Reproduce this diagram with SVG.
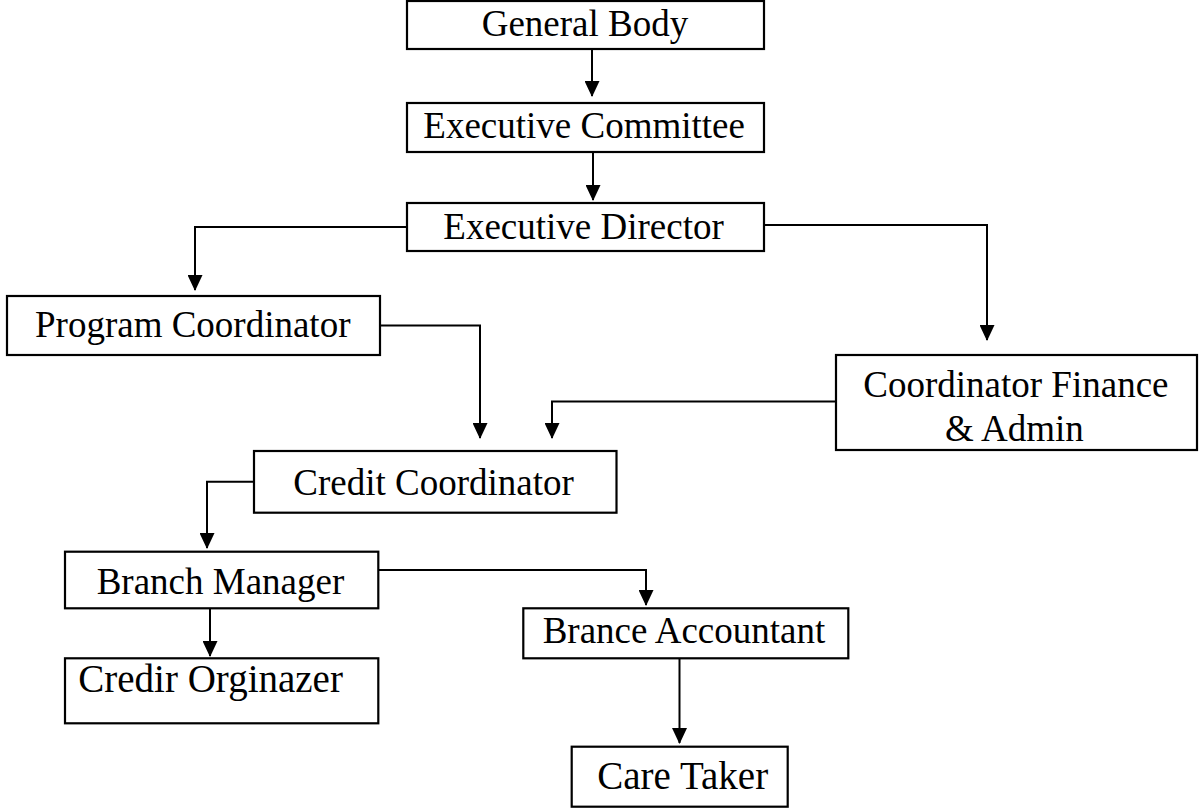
<svg xmlns="http://www.w3.org/2000/svg" width="1203" height="811" viewBox="0 0 1203 811">
<style>
.box{fill:#fff;stroke:#000;stroke-width:2.2}
.lbl{font-family:"Liberation Serif",Tinos,"Times New Roman",Times,serif;fill:#000}
.cn{fill:none;stroke:#000;stroke-width:2}
</style>
<defs>
<marker id="ah" viewBox="0 0 16 15" refX="15" refY="7.5" markerWidth="16" markerHeight="15" markerUnits="userSpaceOnUse" orient="auto">
<path d="M0,0 L16,7.5 L0,15 z" fill="#000"/>
</marker>
</defs>
<rect width="1203" height="811" fill="#fff"/>
<g id="connectors">
<path class="cn" d="M592,49 V96" marker-end="url(#ah)"/>
<path class="cn" d="M593,152 V200" marker-end="url(#ah)"/>
<path class="cn" d="M407,227 H195 V290" marker-end="url(#ah)"/>
<path class="cn" d="M764,225 H987 V340" marker-end="url(#ah)"/>
<path class="cn" d="M380,325.5 H480 V438" marker-end="url(#ah)"/>
<path class="cn" d="M836,401.5 H552 V438" marker-end="url(#ah)"/>
<path class="cn" d="M254,481.7 H207 V548" marker-end="url(#ah)"/>
<path class="cn" d="M210,608 V656" marker-end="url(#ah)"/>
<path class="cn" d="M378,570 H646 V605" marker-end="url(#ah)"/>
<path class="cn" d="M679.5,658 V743" marker-end="url(#ah)"/>
</g>
<g id="general-body">
<rect class="box" x="407" y="1" width="357" height="48"/>
<text class="lbl" x="481.7" y="36" font-size="37">General Body</text>
</g>
<g id="executive-committee">
<rect class="box" x="407" y="103" width="357" height="49"/>
<text class="lbl" x="423.3" y="137.5" font-size="37">Executive Committee</text>
</g>
<g id="executive-director">
<rect class="box" x="407" y="203" width="357" height="48"/>
<text class="lbl" x="443.3" y="239" font-size="37">Executive Director</text>
</g>
<g id="program-coordinator">
<rect class="box" x="7" y="296" width="373" height="59"/>
<text class="lbl" x="35" y="337" font-size="37">Program Coordinator</text>
</g>
<g id="coordinator-finance-admin">
<rect class="box" x="836" y="355" width="361" height="95"/>
<text class="lbl" x="863.3" y="397" font-size="37">Coordinator Finance</text>
<text class="lbl" x="945" y="441" font-size="37">&amp; Admin</text>
</g>
<g id="credit-coordinator">
<rect class="box" x="254" y="451" width="362.5" height="61.7"/>
<text class="lbl" x="293.3" y="495" font-size="37">Credit Coordinator</text>
</g>
<g id="branch-manager">
<rect class="box" x="65" y="551.7" width="313.3" height="56.6"/>
<text class="lbl" x="96.7" y="593.5" font-size="37">Branch Manager</text>
</g>
<g id="credir-orginazer">
<rect class="box" x="65" y="658.3" width="313.3" height="65"/>
<text class="lbl" x="78.3" y="692" font-size="39">Credir Orginazer</text>
</g>
<g id="brance-accountant">
<rect class="box" x="523.3" y="608.3" width="325" height="50"/>
<text class="lbl" x="542.7" y="643" font-size="37">Brance Accountant</text>
</g>
<g id="care-taker">
<rect class="box" x="571.7" y="746.7" width="216" height="60"/>
<text class="lbl" x="597.3" y="788.5" font-size="39">Care Taker</text>
</g>
</svg>
